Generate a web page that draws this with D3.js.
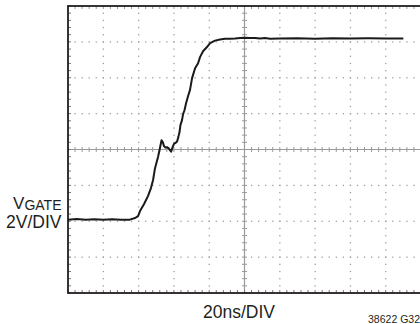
<!DOCTYPE html>
<html>
<head>
<meta charset="utf-8">
<script src="https://cdn.jsdelivr.net/npm/d3@7/dist/d3.min.js"></script>
<style>
  html, body { margin: 0; padding: 0; background: #fff; }
  svg { display: block; }
  text { font-family: "Liberation Sans Narrow", "Liberation Sans", Arial, sans-serif; fill: #231f20; }
</style>
</head>
<body>
<svg id="chart" width="420" height="324"></svg>
<script>
// ---- data ----
const timeNs = [0, 5, 10, 15, 20, 25, 30, 35, 38.0, 39.7, 40.8, 43.1, 45.3, 47.0, 48.2, 49.3, 51.0, 52.1, 53.0, 53.7,
  54.4, 55.2, 56.1, 57.2, 58.4, 59.3, 60.1, 60.9, 61.8, 62.5, 63.2, 63.7, 64.6, 65.2, 66.0, 66.9, 68.0, 69.1, 70.3,
  72.0, 73.7, 74.8, 76.5, 78.6, 80.5, 83.3, 86.1, 89.0, 91.8, 94.6, 97.5, 100.3, 103.1, 106.0, 108.8, 111.6, 114.5,
  120, 130, 140, 150, 160, 170, 180, 190, 200];
const gateV = [0.09, 0.12, 0.08, 0.11, 0.09, 0.11, 0.08, 0.09, 0.18, 0.29, 0.57, 0.96, 1.40, 1.85, 2.30, 2.96, 3.58, 4.08, 4.52,
  4.41, 4.19, 4.11, 4.13, 4.05, 3.88, 4.13, 4.33, 4.36, 4.44, 4.69, 4.97, 5.36, 5.64, 5.97, 6.19, 6.58, 6.97, 7.31,
  7.98, 8.53, 8.81, 9.15, 9.48, 9.70, 9.93, 10.07, 10.13, 10.17, 10.18, 10.19, 10.21, 10.23, 10.21, 10.22, 10.19, 10.21,
  10.18, 10.19, 10.20, 10.18, 10.20, 10.19, 10.20, 10.19, 10.19];
const xDivs = [0, 20, 40, 60, 80, 100, 120, 140, 160, 180, 200];   // ns, 20ns/DIV
const yDivs = [-4, -2, 0, 2, 4, 6, 8, 10, 12];                     // V, 2V/DIV
const xCenter = 100, yCenter = 4;
const yLabelLines = ["V", "GATE", "2V/DIV"];
const xLabel = "20ns/DIV";
const figId = "38622 G32";

// ---- layout ----
const svg = d3.select("#chart");
const x = d3.scaleLinear().domain([0, 200]).range([68, 421]);
const y = d3.scaleLinear().domain([-4, 12]).range([293, 6]);
const xMinor = d3.range(0, 200.001, 4);
const yMinor = d3.range(-4, 12.001, 0.4);

const g = svg.append("g");

// dotted grid lines
xDivs.filter(d => d !== xCenter && d !== 0).forEach(t => {
  g.selectAll(null).data(yMinor).enter().append("rect")
    .attr("x", x(t) - 0.6).attr("y", d => y(d) - 0.6)
    .attr("width", 1.3).attr("height", 1.3).attr("fill", "#a0a0a0");
});
yDivs.filter(d => d !== yCenter && d !== -4 && d !== 12).forEach(v => {
  g.selectAll(null).data(xMinor).enter().append("rect")
    .attr("x", d => x(d) - 0.6).attr("y", y(v) - 0.6)
    .attr("width", 1.3).attr("height", 1.3).attr("fill", "#a0a0a0");
});

// center cross lines with ticks
g.append("line").attr("x1", x(0)).attr("x2", x(200)).attr("y1", y(yCenter)).attr("y2", y(yCenter))
  .attr("stroke", "#9a9a9a").attr("stroke-width", 1.2);
g.append("line").attr("x1", x(xCenter)).attr("x2", x(xCenter)).attr("y1", y(12)).attr("y2", y(-4))
  .attr("stroke", "#9a9a9a").attr("stroke-width", 1.2);
g.selectAll(null).data(xMinor).enter().append("line")
  .attr("x1", d => x(d)).attr("x2", d => x(d))
  .attr("y1", y(yCenter) - 2.5).attr("y2", y(yCenter) + 2.5)
  .attr("stroke", "#9a9a9a").attr("stroke-width", 1);
g.selectAll(null).data(yMinor).enter().append("line")
  .attr("x1", x(xCenter) - 2.5).attr("x2", x(xCenter) + 2.5)
  .attr("y1", d => y(d)).attr("y2", d => y(d))
  .attr("stroke", "#9a9a9a").attr("stroke-width", 1);

// frame edge ticks
g.selectAll(null).data(yMinor).enter().append("line")
  .attr("x1", x(0)).attr("x2", x(0) + 3)
  .attr("y1", d => y(d)).attr("y2", d => y(d))
  .attr("stroke", "#777").attr("stroke-width", 1);
g.selectAll(null).data(xMinor).enter().append("line")
  .attr("x1", d => x(d)).attr("x2", d => x(d))
  .attr("y1", y(-4)).attr("y2", y(-4) - 3)
  .attr("stroke", "#777").attr("stroke-width", 1);
g.selectAll(null).data(xMinor).enter().append("line")
  .attr("x1", d => x(d)).attr("x2", d => x(d))
  .attr("y1", y(12)).attr("y2", y(12) + 3)
  .attr("stroke", "#999").attr("stroke-width", 1);

// frame
g.append("rect").attr("x", x(0)).attr("y", y(12))
  .attr("width", x(200) - x(0)).attr("height", y(-4) - y(12))
  .attr("fill", "none").attr("stroke", "#231f20").attr("stroke-width", 1.8);

// trace
const line = d3.line().x((d, i) => x(timeNs[i])).y(d => y(d)).curve(d3.curveLinear);
g.append("path").datum(gateV).attr("d", line)
  .attr("fill", "none").attr("stroke", "#1a1a1a").attr("stroke-width", 2)
  .attr("stroke-linejoin", "round");

// labels
const yl = svg.append("text").attr("x", 61.5).attr("y", 209).attr("text-anchor", "end")
  .style("font-size", "17px");
yl.append("tspan").text(yLabelLines[0]);
yl.append("tspan").text(yLabelLines[1]).style("font-size", "14px").attr("dy", 0.5);
svg.append("text").attr("x", 61.5).attr("y", 228).attr("text-anchor", "end")
  .style("font-size", "17.5px").text(yLabelLines[2]);
svg.append("text").attr("x", 239).attr("y", 317.7).attr("text-anchor", "middle")
  .style("font-size", "17.5px").text(xLabel);
svg.append("text").attr("x", 420).attr("y", 322.5).attr("text-anchor", "end")
  .style("font-size", "10.5px").text(figId);
</script>
</body>
</html>
